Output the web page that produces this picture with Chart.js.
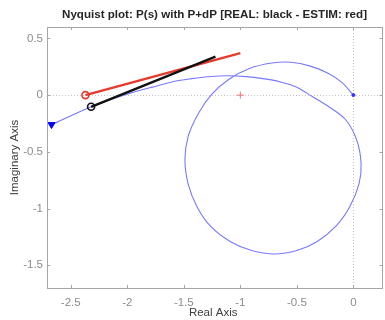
<!DOCTYPE html>
<html>
<head>
<meta charset="utf-8">
<script src="https://cdn.jsdelivr.net/npm/chart.js@4/dist/chart.umd.min.js"></script>
<style>
  html, body { margin: 0; padding: 0; background: #fff; }
</style>
</head>
<body>
<canvas id="nyq" width="385" height="320"></canvas>
<script>
// nyquist curve of P(s) (outer arc, then the loop, ends at the origin)
const nyqRe = [-2.67, -2.32, -2.15, -1.98, -1.78, -1.58, -1.43, -1.286, -1.109, -0.95, -0.80, -0.653, -0.50, -0.36, -0.22, -0.07,
  0.03, 0.068, 0.05, -0.03, -0.15, -0.32, -0.50, -0.70, -0.90, -1.09, -1.26, -1.38, -1.46, -1.49, -1.46, -1.37,
  -1.25, -1.10, -0.92, -0.72, -0.55, -0.38, -0.22, -0.10, 0];
const nyqIm = [-0.26, -0.103, -0.04, 0.015, 0.07, 0.122, 0.145, 0.162, 0.170, 0.163, 0.145, 0.118, 0.07, -0.015, -0.10, -0.215,
  -0.397, -0.603, -0.78, -0.98, -1.15, -1.29, -1.37, -1.40, -1.37, -1.29, -1.16, -0.99, -0.79, -0.57, -0.36, -0.16,
  0.01, 0.14, 0.235, 0.283, 0.29, 0.255, 0.19, 0.11, 0];
// REAL (black) and ESTIM (red) segments
const realRe = [-2.32, -1.22];
const realIm = [-0.103, 0.338];
const estRe = [-2.37, -1.0];
const estIm = [0.0, 0.37];
const critRe = [-1];
const critIm = [0];
const xTicks = [-2.5, -2, -1.5, -1, -0.5, 0];
const yTicks = [0.5, 0, -0.5, -1, -1.5];
const titleText = 'Nyquist plot: P(s) with P+dP [REAL: black - ESTIM: red]';

const pts = (re, im) => re.map((v, i) => ({x: v, y: im[i]}));
const nyq = pts(nyqRe, nyqIm);
const fontFam = '"Liberation Sans", Arial, sans-serif';
const boxExtra = 3; // chart.js keeps a few px on the right, the axes box goes to the edge

const framePlugin = {
  id: 'frame',
  beforeDatasetsDraw(chart) {
    const {ctx, chartArea: a, scales: {x, y}} = chart;
    ctx.save();
    ctx.strokeStyle = '#c4c4c4';
    ctx.lineWidth = 1;
    ctx.setLineDash([1, 2]);
    const x0 = Math.round(x.getPixelForValue(0)) + 0.5;
    const y0 = Math.round(y.getPixelForValue(0)) + 0.5;
    ctx.beginPath();
    ctx.moveTo(x0, a.top); ctx.lineTo(x0, a.bottom);
    ctx.moveTo(a.left, y0); ctx.lineTo(a.right + boxExtra, y0);
    ctx.stroke();
    ctx.restore();
  },
  afterDatasetsDraw(chart) {
    const {ctx, chartArea: a, scales: {x, y}} = chart;
    const right = Math.round(a.right) + boxExtra;
    ctx.save();
    ctx.strokeStyle = '#a6a6a6';
    ctx.lineWidth = 1;
    ctx.strokeRect(Math.round(a.left) + 0.5, Math.round(a.top) + 0.5, right - Math.round(a.left), Math.round(a.bottom - a.top));
    ctx.beginPath();
    xTicks.forEach(v => {
      const px = Math.round(x.getPixelForValue(v)) + 0.5;
      ctx.moveTo(px, a.bottom); ctx.lineTo(px, a.bottom - 3);
      ctx.moveTo(px, a.top); ctx.lineTo(px, a.top + 3);
    });
    yTicks.forEach(v => {
      const py = Math.round(y.getPixelForValue(v)) + 0.5;
      ctx.moveTo(a.left, py); ctx.lineTo(a.left + 3, py);
      ctx.moveTo(right + 0.5, py); ctx.lineTo(right - 2.5, py);
    });
    ctx.stroke();
    // title, centred over the axes box like matlab does
    ctx.fillStyle = '#262626';
    ctx.font = 'bold 11.6px ' + fontFam;
    ctx.textAlign = 'center';
    ctx.textBaseline = 'middle';
    ctx.fillText(titleText, (a.left + right) / 2, 15);
    ctx.restore();
  }
};

new Chart(document.getElementById('nyq'), {
  type: 'scatter',
  data: {
    datasets: [
      {
        data: [nyq[0]], pointStyle: 'triangle', rotation: 180, pointRadius: 4,
        backgroundColor: '#0000ff', borderColor: '#0000ff', borderWidth: 1, order: 1
      },
      {
        data: [nyq[nyq.length - 1]], pointRadius: 1.5,
        backgroundColor: '#3030ff', borderColor: '#3030ff', order: 1
      },
      {
        data: pts(critRe, critIm), pointStyle: 'cross', pointRadius: 3.5,
        borderColor: '#f07070', borderWidth: 1, order: 1
      },
      {
        data: pts(realRe, realIm), showLine: true, borderColor: '#111111', borderWidth: 2.4,
        pointRadius: [3.5, 0], pointBorderWidth: 1.6, pointBackgroundColor: 'rgba(0,0,0,0)', order: 2
      },
      {
        data: pts(estRe, estIm), showLine: true, borderColor: '#e8392d', borderWidth: 2.4,
        pointRadius: [3.5, 0], pointBorderWidth: 1.6, pointBackgroundColor: 'rgba(0,0,0,0)', order: 3
      },
      {
        data: nyq, showLine: true, borderColor: '#7878ff', borderWidth: 1.1,
        pointRadius: 0, tension: 0.3, order: 4
      }
    ]
  },
  options: {
    responsive: false,
    animation: false,
    layout: {padding: {top: 27, right: 2}},
    plugins: {
      legend: {display: false},
      tooltip: {enabled: false},
      title: {display: false}
    },
    scales: {
      x: {
        type: 'linear', min: -2.71, max: 0.23,
        afterBuildTicks: s => { s.ticks = xTicks.map(v => ({value: v})); },
        afterFit: s => { s.height = 32; },
        grid: {display: false, drawTicks: false},
        border: {display: false},
        ticks: {color: '#8c8c8c', font: {family: fontFam, size: 11.5}, padding: 8, callback: v => String(v)},
        title: {display: true, text: 'Real Axis', color: '#404040', font: {family: fontFam, size: 11.5}, padding: {top: 0, bottom: 0}}
      },
      y: {
        type: 'linear', min: -1.7, max: 0.6,
        afterBuildTicks: s => { s.ticks = yTicks.map(v => ({value: v})); },
        afterFit: s => { s.width = 47; },
        grid: {display: false, drawTicks: false},
        border: {display: false},
        ticks: {color: '#8c8c8c', font: {family: fontFam, size: 11.5}, padding: 4, callback: v => String(v)},
        title: {display: true, text: 'Imaginary Axis', color: '#404040', font: {family: fontFam, size: 11.5}, padding: {top: 8, bottom: 0}}
      }
    }
  },
  plugins: [framePlugin]
});
</script>
</body>
</html>
